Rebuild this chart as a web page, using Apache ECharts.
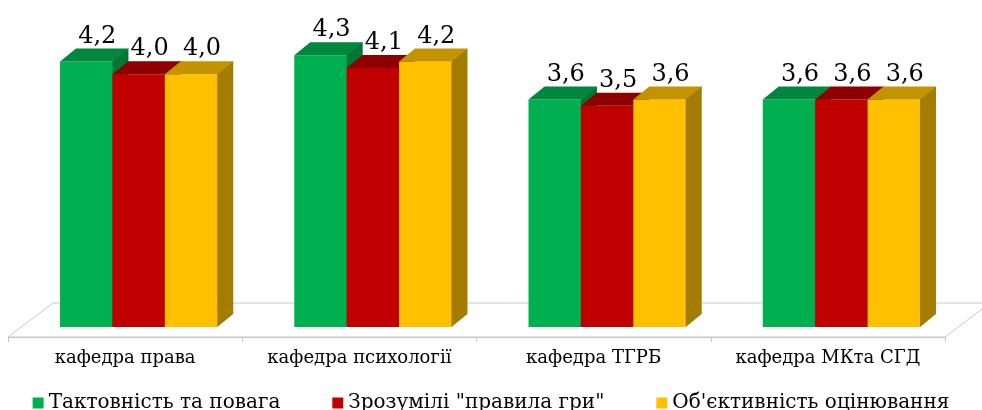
<!DOCTYPE html>
<html>
<head>
<meta charset="utf-8">
<script src="https://cdn.jsdelivr.net/npm/echarts@6/dist/echarts.min.js"></script>
<style>
html,body{margin:0;padding:0;background:#fff;}
#chart{width:982px;height:410px;}
</style>
</head>
<body>
<div id="chart"></div>
<script>
const categories = ['кафедра права', 'кафедра психології', 'кафедра ТГРБ', 'кафедра МКта СГД'];
const seriesNames = ['Тактовність та повага', 'Зрозумілі "правила гри"', "Об'єктивність оцінювання"];
const tactValues = [4.2, 4.3, 3.6, 3.6];
const rulesValues = [4.0, 4.1, 3.5, 3.6];
const objectValues = [4.0, 4.2, 3.6, 3.6];

const FONT = 'DejaVu Serif';
const palettes = [
  {front: '#00B050', top: '#00873D', side: '#007534'},
  {front: '#C00000', top: '#8E0000', side: '#7A0000'},
  {front: '#FFC000', top: '#C49400', side: '#A37C00'}
];
// 3D look parameters
const FLOOR_DX = 45, FLOOR_DY = -34;
const FACE_DX = 13.5, FACE_DY = -10;
const BAR_DX = 16, BAR_DY = -13;
const BAR_FRAC = 0.2237;

function fmt(v) { return v.toFixed(1).replace('.', ','); }

function barRenderer(sIdx) {
  const pal = palettes[sIdx];
  return function (params, api) {
    const cat = api.value(0), v = api.value(1);
    const base = api.coord([cat, 0]);
    const tip = api.coord([cat, v]);
    const band = api.size([1, 0])[0];
    const barW = band * BAR_FRAC;
    const x0 = base[0] - barW * 1.5 + sIdx * barW + FACE_DX;
    const yb = base[1] + FACE_DY;
    const yt = tip[1] + FACE_DY;
    const x1 = x0 + barW;
    return {
      type: 'group',
      children: [
        {type: 'rect', shape: {x: x0, y: yt, width: barW + 0.5, height: yb - yt}, style: {fill: pal.front}},
        {type: 'polygon', shape: {points: [[x0, yt], [x1 + 0.5, yt], [x1 + BAR_DX + 0.5, yt + BAR_DY], [x0 + BAR_DX, yt + BAR_DY]]}, style: {fill: pal.top}},
        {type: 'polygon', shape: {points: [[x1, yt], [x1 + BAR_DX, yt + BAR_DY], [x1 + BAR_DX, yb + BAR_DY], [x1, yb]]}, style: {fill: pal.side}},
        {type: 'text', style: {text: fmt(v), x: (x0 + x1) / 2 + 11, y: yt - 25, textAlign: 'center', textVerticalAlign: 'middle', fontFamily: FONT, fontSize: 24, fill: '#000'}}
      ]
    };
  };
}

function floorRenderer(params, api) {
  const cs = params.coordSys;
  const yf = cs.y + cs.height;
  return {
    type: 'polygon',
    shape: {points: [[cs.x, yf], [cs.x + cs.width, yf], [cs.x + cs.width + FLOOR_DX, yf + FLOOR_DY], [cs.x + FLOOR_DX, yf + FLOOR_DY]]},
    style: {fill: '#fff', stroke: '#c8c8c8', lineWidth: 1}
  };
}

const valueLists = [tactValues, rulesValues, objectValues];
const series = [{
  type: 'custom', name: 'floor', silent: true, z: 1,
  renderItem: floorRenderer, data: [[0, 0]]
}];
valueLists.forEach((vals, i) => {
  series.push({
    type: 'custom', name: seriesNames[i], z: 3 + i,
    itemStyle: {color: palettes[i].front},
    renderItem: barRenderer(i),
    encode: {x: 0, y: 1},
    data: vals.map((v, c) => [c, v])
  });
});

const chart = echarts.init(document.getElementById('chart'), null, {renderer: 'canvas'});
chart.setOption({
  animation: false,
  backgroundColor: '#fff',
  grid: {left: 8, right: 37, top: 21, bottom: 73},
  xAxis: {
    type: 'category', data: categories, boundaryGap: true,
    axisLine: {show: true, lineStyle: {color: '#c8c8c8', width: 1}},
    axisTick: {show: true, length: 5, lineStyle: {color: '#c8c8c8'}},
    axisLabel: {color: '#000', fontFamily: FONT, fontSize: 18, margin: 12, interval: 0, hideOverlap: false},
    z: 2
  },
  yAxis: {type: 'value', min: 0, max: 5, show: false, splitLine: {show: false}},
  legend: {
    data: seriesNames, top: 388, left: 'center',
    icon: 'rect', itemWidth: 11, itemHeight: 11, itemGap: 52,
    textStyle: {color: '#000', fontFamily: FONT, fontSize: 20}
  },
  series: series
});
</script>
</body>
</html>
